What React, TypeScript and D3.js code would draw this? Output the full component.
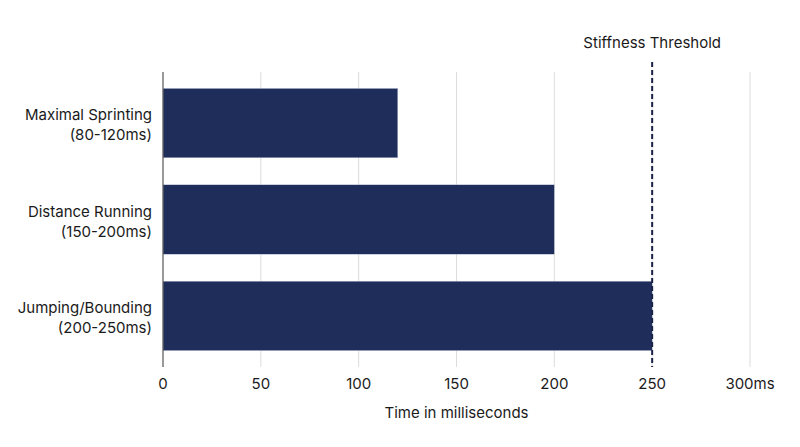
import React from "react";
import * as d3 from "d3";

const categories = ["Maximal Sprinting|(80-120ms)", "Distance Running|(150-200ms)", "Jumping/Bounding|(200-250ms)"];
const values = [120, 200, 250];
const tickValues = [0, 50, 100, 150, 200, 250, 300];
const tickLabels = ["0", "50", "100", "150", "200", "250", "300ms"];
const thresholdValue = 250;
const thresholdLabel = "Stiffness Threshold";
const axisTitle = "Time in milliseconds";

const W = 800;
const H = 447;
const FONT = "Inter, 'Noto Sans', sans-serif";
const BAR = "#1f2d5b";
const NAVY = "#1a2246";

export default function App() {
  const x = d3.scaleLinear().domain([0, 300]).range([163, 750]);
  const y = d3.scaleBand<string>().domain(categories).range([72, 367]).paddingInner(0.28).paddingOuter(0.17);
  const top = 72;
  const bottom = 367;

  return (
    <svg width={W} height={H} style={{ position: "absolute", left: 0, top: 0, background: "#fff" }} fontFamily={FONT}>
      {tickValues.slice(1).map((t) => (
        <line key={"g" + t} x1={x(t)} x2={x(t)} y1={top} y2={bottom} stroke="#dcdcdc" strokeWidth={1} />
      ))}
      {categories.map((c, i) => (
        <rect key={c} x={x(0)} y={y(c)!} width={x(values[i]) - x(0)} height={y.bandwidth()} fill={BAR} stroke="#c8cde0" strokeWidth={0.4} />
      ))}
      <line x1={x(0)} x2={x(0)} y1={top} y2={bottom} stroke="#555" strokeWidth={1.2} />
      <line x1={x(thresholdValue)} x2={x(thresholdValue)} y1={62} y2={bottom} stroke={NAVY} strokeWidth={2} strokeDasharray="5,3" />
      <text x={x(thresholdValue)} y={48} textAnchor="middle" fontSize={15} fill="#1a1a1a">{thresholdLabel}</text>
      {categories.map((c) => {
        const [l1, l2] = c.split("|");
        const cy = y(c)! + y.bandwidth() / 2;
        return (
          <text key={"l" + c} x={152} textAnchor="end" fontSize={15} fill="#1a1a1a">
            <tspan x={152} y={cy - 3}>{l1}</tspan>
            <tspan x={152} y={cy + 17}>{l2}</tspan>
          </text>
        );
      })}
      {tickValues.map((t, i) => (
        <text key={"t" + t} x={x(t)} y={389} textAnchor="middle" fontSize={15} fill="#1a1a1a">{tickLabels[i]}</text>
      ))}
      <text x={(x(0) + x(300)) / 2} y={418} textAnchor="middle" fontSize={15} fill="#1a1a1a">{axisTitle}</text>
    </svg>
  );
}
